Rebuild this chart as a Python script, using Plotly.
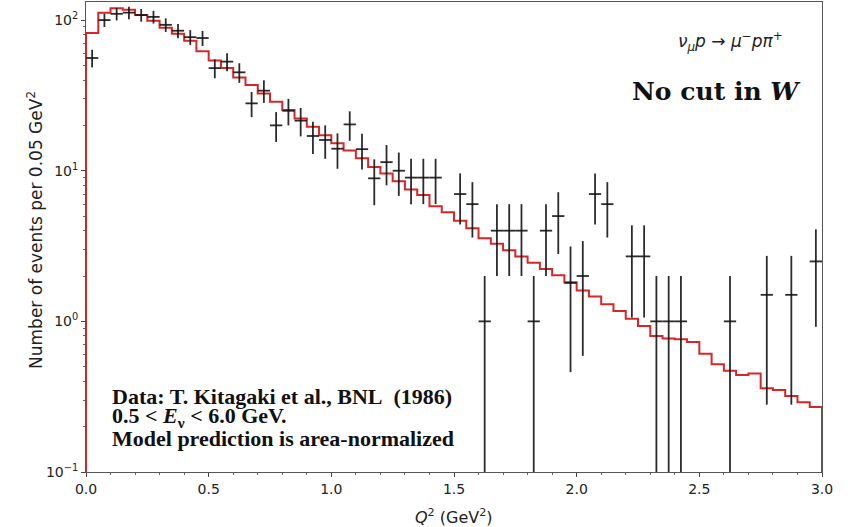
import plotly.graph_objects as go

# Kitagaki et al. data: bin centres (GeV^2), events per 0.05 GeV^2, errors
q2_data = [0.025, 0.075, 0.125, 0.175, 0.225, 0.275, 0.325, 0.375, 0.425, 0.475,
           0.525, 0.575, 0.625, 0.675, 0.725, 0.775, 0.825, 0.875, 0.925, 0.975,
           1.025, 1.075, 1.125, 1.175, 1.225, 1.275, 1.325, 1.375, 1.425,
           1.525, 1.575, 1.625, 1.675, 1.725, 1.775, 1.825, 1.875, 1.925, 1.975,
           2.025, 2.075, 2.125, 2.225, 2.275, 2.325, 2.375, 2.425,
           2.625, 2.775, 2.875, 2.975]
events = [56, 100, 110, 112, 108, 105, 93, 85, 77, 76,
          48, 53, 45, 28, 34, 20, 25, 21.5, 17, 16,
          14, 20.3, 13.9, 8.9, 11.4, 10, 9, 9, 9,
          7, 6, 1, 4, 4, 4, 1, 4, 5, 1.8,
          2, 7, 6, 2.7, 2.7, 1, 1, 1,
          1, 1.5, 1.5, 2.5]
events_err = [7.5, 10, 10.5, 10.6, 10.4, 10.2, 9.6, 9.2, 8.8, 8.7,
              6.9, 7.3, 6.7, 5.3, 5.8, 4.5, 5, 4.6, 4.1, 4,
              3.7, 4.5, 3.7, 3, 3.4, 3.2, 3, 3, 3,
              2.6, 2.4, 1, 2, 2, 2, 1, 2, 2.2, 1.34,
              1.41, 2.6, 2.4, 1.64, 1.64, 1, 1, 1,
              1, 1.22, 1.22, 1.58]
half_bin = 0.025

# model prediction, one value per 0.05 GeV^2 bin from 0 to 3
bin_edges = [i * 0.05 for i in range(61)]
model = [82, 112, 120, 117, 108, 99, 89, 81, 73, 62,
         54, 48, 41.5, 37, 32.6, 28.7, 25.3, 22.2, 19.6, 17.2,
         15.2, 13.6, 12.1, 10.6, 9.6, 8.5, 7.5, 6.9, 5.8, 5.3,
         4.65, 4.15, 3.56, 3.27, 2.96, 2.70, 2.45, 2.23, 2.02, 1.82,
         1.6, 1.46, 1.30, 1.17, 1.04, 0.93, 0.80, 0.77, 0.76, 0.73,
         0.61, 0.52, 0.47, 0.44, 0.45, 0.36, 0.35, 0.32, 0.29, 0.27]

floor = 1e-4
step_x = [bin_edges[0]] + bin_edges + [bin_edges[-1]]
step_y = [floor] + model + [model[-1], floor]

fig = go.Figure()

fig.add_trace(go.Scatter(
    x=step_x, y=step_y, mode="lines", line_shape="hv",
    line=dict(color="#d62728", width=2), showlegend=False,
))

bar_color = "rgba(20,20,20,0.9)"
fig.add_trace(go.Scatter(
    x=q2_data, y=events, mode="markers",
    marker=dict(size=2, color="rgba(0,0,0,0)"),
    error_x=dict(type="data", array=[half_bin] * len(q2_data), width=0,
                 thickness=1.8, color=bar_color),
    error_y=dict(type="data", array=events_err, width=0,
                 thickness=1.8, color=bar_color),
    showlegend=False,
))

tick_font = dict(family="DejaVu Sans", size=14, color="#222")
minor_y = [m * 10 ** e for e in (-1, 0, 1, 2) for m in range(2, 10)]

fig.update_xaxes(
    range=[0, 3], tickvals=[0, 0.5, 1, 1.5, 2, 2.5, 3],
    ticktext=["0.0", "0.5", "1.0", "1.5", "2.0", "2.5", "3.0"],
    ticks="outside", ticklen=4, tickcolor="#444",
    minor=dict(dtick=0.1, ticks="outside", ticklen=2, tickcolor="#666"),
    showline=True, mirror=True, linecolor="#555", linewidth=1,
    showgrid=False, zeroline=False, tickfont=tick_font, automargin=False,
)
fig.update_yaxes(
    type="log", range=[-1, 2.12],
    tickvals=[0.1, 1, 10, 100],
    ticktext=["10<sup>\u22121</sup>", "10<sup>0</sup>", "10<sup>1</sup>", "10<sup>2</sup>"],
    ticks="outside", ticklen=4, tickcolor="#444",
    minor=dict(tickvals=minor_y, ticks="outside", ticklen=2, tickcolor="#666"),
    showline=True, mirror=True, linecolor="#555", linewidth=1,
    showgrid=False, zeroline=False, tickfont=tick_font, automargin=False,
)

serif = "Liberation Serif"
notes = [
    dict(text="Data: T. Kitagaki et al., BNL\u00a0\u00a0(1986)", y=0.1617),
    dict(text="0.5 &lt; <i>E</i><sub>\u03bd</sub> &lt; 6.0 GeV.", y=0.117),
    dict(text="Model prediction is area-normalized", y=0.0713),
]
for n in notes:
    fig.add_annotation(text="<b>" + n["text"] + "</b>", xref="paper", yref="paper",
                       x=0.0326, y=n["y"], xanchor="left", yanchor="middle",
                       showarrow=False, font=dict(family=serif, size=22, color="#111"))

fig.add_annotation(text="<b>No cut in <i>W</i></b>", xref="paper", yref="paper",
                   x=0.8567, y=0.8106, xanchor="center", yanchor="middle", showarrow=False,
                   font=dict(family="DejaVu Serif", size=25, color="#111"))
fig.add_annotation(text="<i>\u03bd<sub>\u03bc</sub>p</i> \u2192 <i>\u03bc<sup>\u2212</sup>p\u03c0<sup>+</sup></i>",
                   xref="paper", yref="paper", x=0.876, y=0.9155,
                   xanchor="center", yanchor="middle", showarrow=False,
                   font=dict(family="DejaVu Sans", size=17, color="#222"))

fig.add_annotation(text="Number of events per 0.05 GeV<sup>2</sup>", textangle=-90,
                   xref="paper", yref="paper", x=-0.0693, y=0.515,
                   xanchor="center", yanchor="middle", showarrow=False,
                   font=dict(family="DejaVu Sans", size=17, color="#222"))
fig.add_annotation(text="<i>Q</i><sup>2</sup> (GeV<sup>2</sup>)",
                   xref="paper", yref="paper", x=0.5, y=-0.0957,
                   xanchor="center", yanchor="middle", showarrow=False,
                   font=dict(family="DejaVu Sans", size=16, color="#222"))

fig.update_layout(
    width=851, height=527,
    margin=dict(l=86, r=29, t=2, b=55),
    paper_bgcolor="white", plot_bgcolor="white",
)

# the page's default 8px body margin would shift the whole figure
fig.write_html("out.html", config={"displayModeBar": False},
               post_script="document.body.style.margin = '0px';")
